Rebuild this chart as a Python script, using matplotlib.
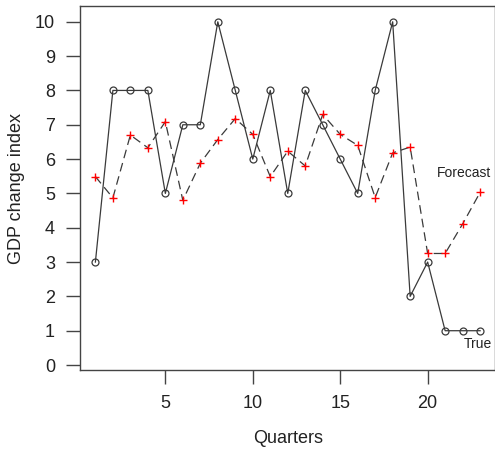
import matplotlib
matplotlib.use("Agg")
import matplotlib.pyplot as plt

quarters = list(range(1, 24))
true_vals = [3, 8, 8, 8, 5, 7, 7, 10, 8, 6, 8, 5, 8, 7, 6, 5, 8, 10, 2, 3, 1, 1, 1]
forecast_vals = [5.49, 4.87, 6.70, 6.33, 7.09, 4.80, 5.88, 6.57, 7.18, 6.72, 5.49,
                 6.23, 5.80, 7.30, 6.72, 6.40, 4.88, 6.18, 6.35, 3.25, 3.25, 4.11, 5.03]
xticks = [5, 10, 15, 20]
yticks = list(range(0, 11))

plt.rcParams['font.family'] = ['Liberation Sans', 'DejaVu Sans']

fig = plt.figure(figsize=(4.95, 4.5), dpi=100)
ax = fig.add_axes([80 / 495, 1 - 369.5 / 450, (495.5 - 80) / 495, (369.5 - 6) / 450])

ax.plot(quarters, true_vals, color='#3a3a3a', lw=0.9, marker='o', ms=5,
        mfc='none', mec='#3a3a3a', mew=0.9)
ax.plot(quarters, forecast_vals, color='#3a3a3a', lw=0.9, dashes=(7, 4))
ax.plot(quarters, forecast_vals, ls='none', marker='+', ms=6, mec='red', mew=1.0)

ax.text(22.1, 5.6, 'Forecast', fontsize=10, color='#222222', ha='center', va='center')
ax.text(22.9, 0.6, 'True', fontsize=10, color='#222222', ha='center', va='center')

ax.set_xlim(0.12, 23.88)
ax.set_ylim(-0.13, 10.46)
ax.set_xticks(xticks)
ax.set_yticks(yticks)
ax.tick_params(axis='both', length=10, width=1.0, color='#444444', labelsize=13,
               labelcolor='#222222')
ax.tick_params(axis='y', pad=8)
ax.tick_params(axis='x', pad=8)
for s in ax.spines.values():
    s.set_color('#444444')
    s.set_linewidth(1.0)

ax.set_xlabel('Quarters', fontsize=13, color='#222222', labelpad=13)
fig.text(17 / 495, 1 - 188 / 450, 'GDP change index', fontsize=13, color='#222222',
         rotation=90, ha='center', va='center')

fig.savefig('out.png', dpi=100)
